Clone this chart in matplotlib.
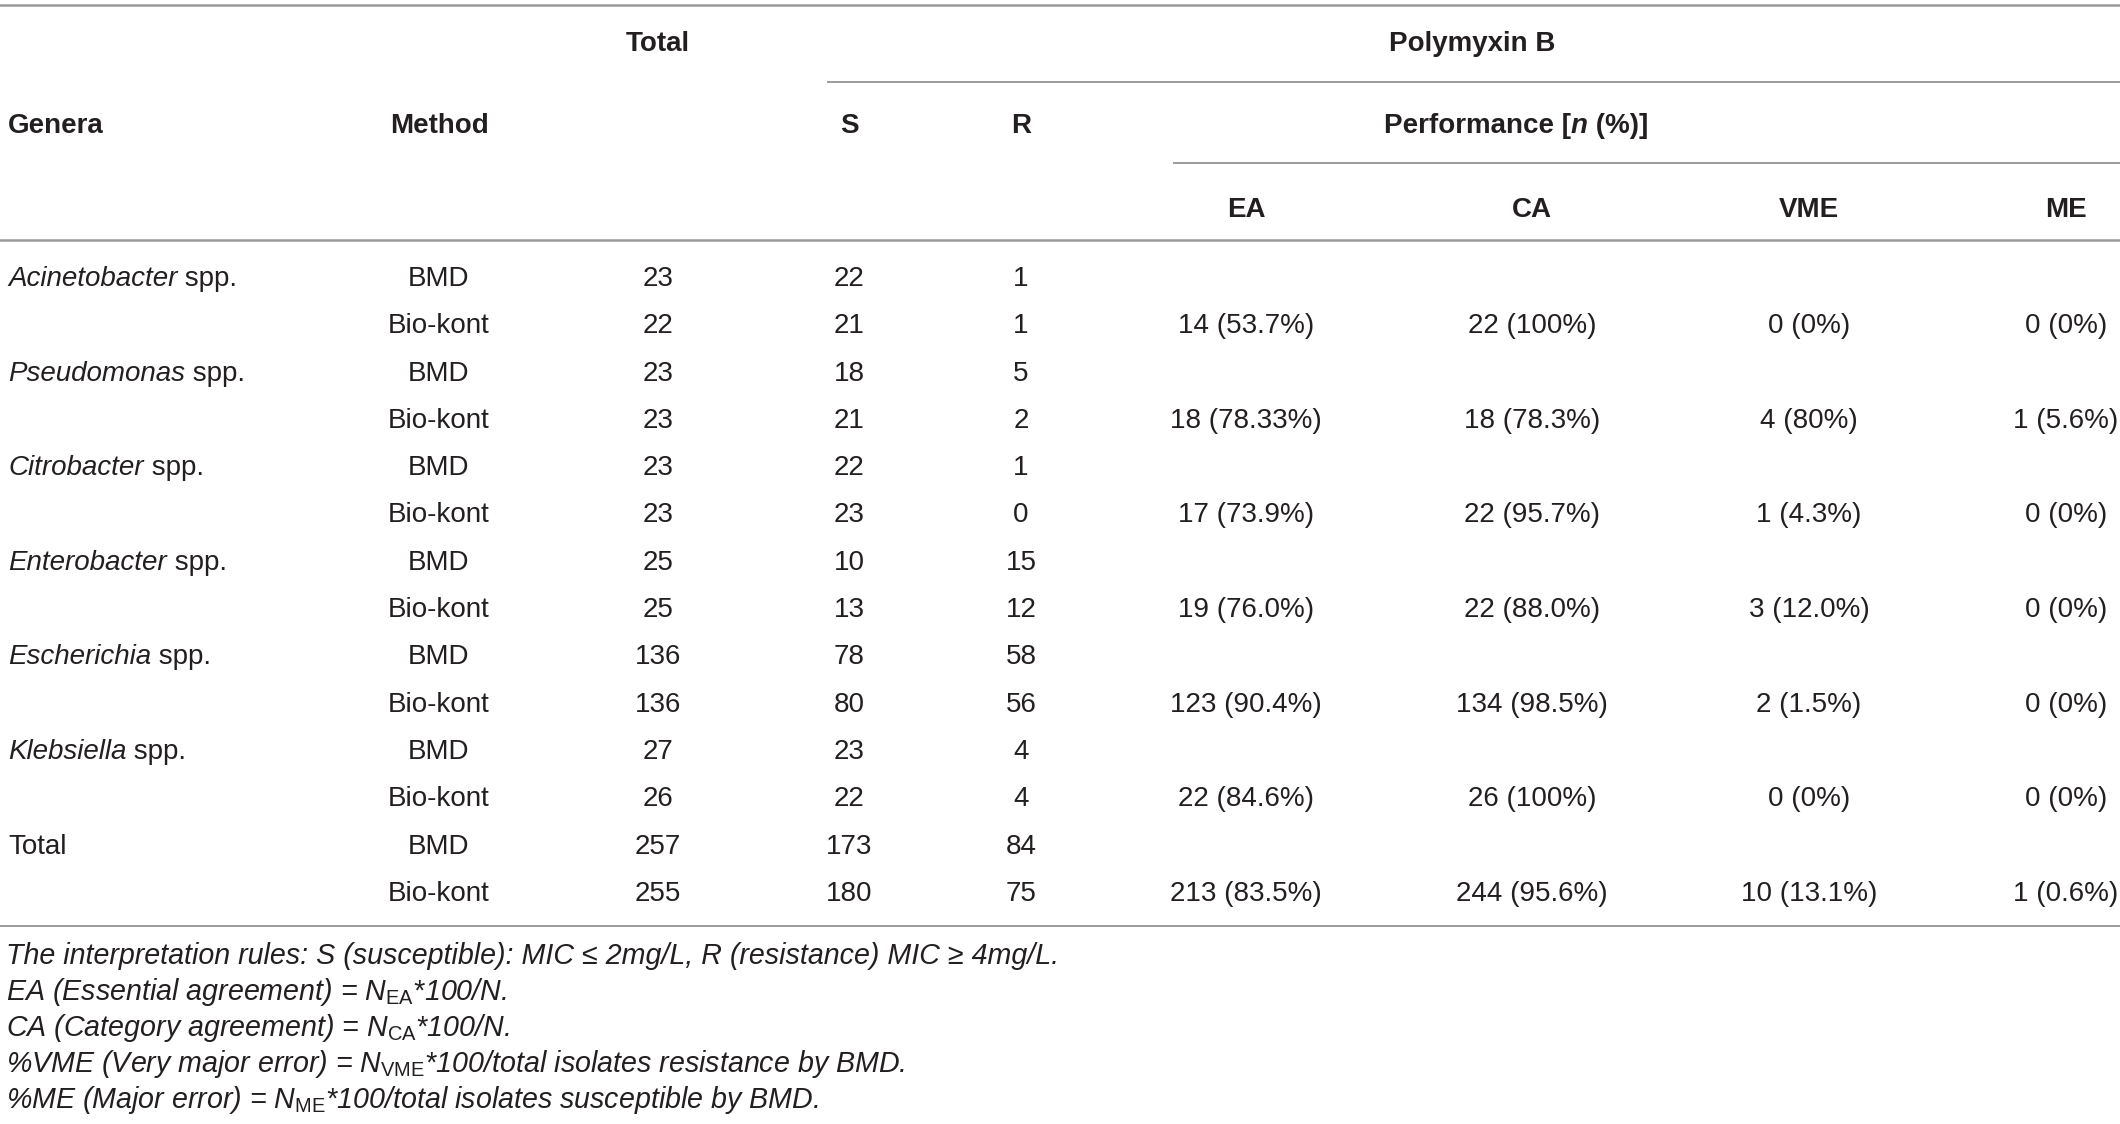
import matplotlib.pyplot as plt

plt.rcParams['font.family'] = ['Liberation Sans', 'DejaVu Sans']
plt.rcParams['mathtext.fontset'] = 'custom'
plt.rcParams['mathtext.rm'] = 'Liberation Sans'
plt.rcParams['mathtext.it'] = 'Liberation Sans:italic'

# table data
genera = ['Acinetobacter', 'Pseudomonas', 'Citrobacter', 'Enterobacter',
          'Escherichia', 'Klebsiella', 'Total']
methods = ['BMD', 'Bio-kont']
total_bmd = [23, 23, 23, 25, 136, 27, 257]
total_bio = [22, 23, 23, 25, 136, 26, 255]
s_bmd = [22, 18, 22, 10, 78, 23, 173]
s_bio = [21, 21, 23, 13, 80, 22, 180]
r_bmd = [1, 5, 1, 15, 58, 4, 84]
r_bio = [1, 2, 0, 12, 56, 4, 75]
ea = ['14 (53.7%)', '18 (78.33%)', '17 (73.9%)', '19 (76.0%)', '123 (90.4%)', '22 (84.6%)', '213 (83.5%)']
ca = ['22 (100%)', '18 (78.3%)', '22 (95.7%)', '22 (88.0%)', '134 (98.5%)', '26 (100%)', '244 (95.6%)']
vme = ['0 (0%)', '4 (80%)', '1 (4.3%)', '3 (12.0%)', '2 (1.5%)', '0 (0%)', '10 (13.1%)']
me = ['0 (0%)', '1 (5.6%)', '0 (0%)', '0 (0%)', '0 (0%)', '0 (0%)', '1 (0.6%)']

notes = [
    'The interpretation rules: S (susceptible): MIC \u2264 2mg/L, R (resistance) MIC \u2265 4mg/L.',
    r'EA (Essential agreement) = $N_{\mathrm{EA}}$*100/N.',
    r'CA (Category agreement) = $N_{\mathrm{CA}}$*100/N.',
    r'%VME (Very major error) = $N_{\mathrm{VME}}$*100/total isolates resistance by BMD.',
    r'%ME (Major error) = $N_{\mathrm{ME}}$*100/total isolates susceptible by BMD.',
]

fig = plt.figure(figsize=(21.2, 11.24), dpi=100)
ax = fig.add_axes([0, 0, 1, 1])
ax.set_xlim(0, 2120)
ax.set_ylim(1124, 0)
ax.axis('off')

fs = 20
txt = '#231f20'
lc = '#9a9a9a'

# column centres
x_gen = 8
x_meth, x_tot, x_s, x_r = 439, 658, 849, 1021
x_ea, x_ca, x_vme, x_me = 1246, 1532, 1809, 2066

# rules
ax.plot([0, 2120], [5, 5], color=lc, lw=1.8)
ax.plot([828, 2120], [82, 82], color=lc, lw=1.4)
ax.plot([1174, 2120], [163, 163], color=lc, lw=1.4)
ax.plot([0, 2120], [240, 240], color=lc, lw=1.8)
ax.plot([0, 2120], [926, 926], color=lc, lw=1.4)

# header
hd = dict(fontsize=fs, fontweight='bold', color=txt, va='baseline')
ax.text(x_tot, 51, 'Total', ha='center', **hd)
ax.text(1472, 51, 'Polymyxin B', ha='center', **hd)
ax.text(x_gen, 133, 'Genera', ha='left', **hd)
ax.text(x_meth, 133, 'Method', ha='center', **hd)
ax.text(x_s, 133, 'S', ha='center', **hd)
ax.text(x_r, 133, 'R', ha='center', **hd)
perf = ax.text(1384, 133, 'Performance [', ha='left', **hd)
p2 = ax.annotate('n', xy=(1, 0), xycoords=perf, ha='left', va='bottom',
                 fontsize=fs, fontweight='bold', style='italic', color=txt)
ax.annotate(' (%)]', xy=(1, 0), xycoords=p2, ha='left', va='bottom',
            fontsize=fs, fontweight='bold', color=txt)
for x, lab in zip([x_ea, x_ca, x_vme, x_me], ['EA', 'CA', 'VME', 'ME']):
    ax.text(x, 217, lab, ha='center', **hd)

# body
bd = dict(fontsize=fs, color=txt, va='baseline', ha='center')
y0, dy = 276, 47.3
for i, g in enumerate(genera):
    yb = y0 + 2 * i * dy + 10
    yk = yb + dy
    if g == 'Total':
        ax.text(x_gen, yb, g, fontsize=fs, color=txt, va='baseline', ha='left')
    else:
        t = ax.text(x_gen, yb, g, fontsize=fs, color=txt, va='baseline',
                    ha='left', style='italic')
        ax.annotate(' spp.', xy=(1, 0), xycoords=t, ha='left', va='bottom',
                    fontsize=fs, color=txt)
    ax.text(x_meth, yb, methods[0], **bd)
    ax.text(x_meth, yk, methods[1], **bd)
    ax.text(x_tot, yb, str(total_bmd[i]), **bd)
    ax.text(x_tot, yk, str(total_bio[i]), **bd)
    ax.text(x_s, yb, str(s_bmd[i]), **bd)
    ax.text(x_s, yk, str(s_bio[i]), **bd)
    ax.text(x_r, yb, str(r_bmd[i]), **bd)
    ax.text(x_r, yk, str(r_bio[i]), **bd)
    ax.text(x_ea, yk, ea[i], **bd)
    ax.text(x_ca, yk, ca[i], **bd)
    ax.text(x_vme, yk, vme[i], **bd)
    ax.text(x_me, yk, me[i], **bd)

# footnotes
for j, n in enumerate(notes):
    ax.text(6, 964 + j * 36, n, fontsize=20.6, color=txt, style='italic',
            va='baseline', ha='left')

fig.savefig('out.png', dpi=100)
